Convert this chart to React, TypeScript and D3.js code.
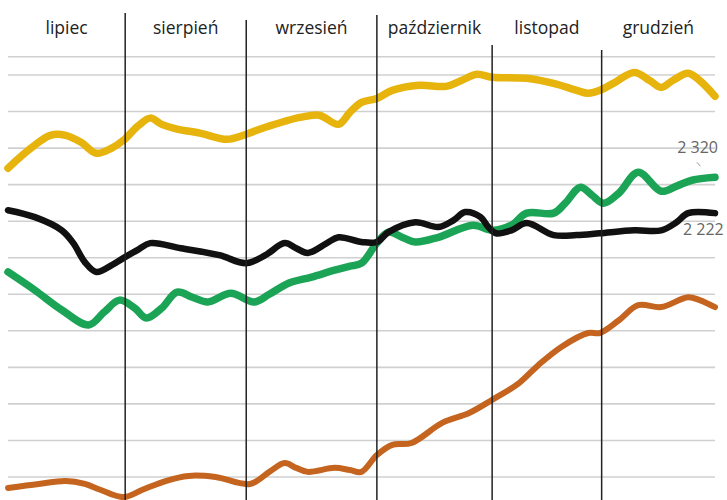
import { line, curveCatmullRom, scaleLinear } from "d3";

// months across the top
const months = ["lipiec", "sierpień", "wrzesień", "październik", "listopad", "grudzień"];
// month boundaries, in days from the start of July (as drawn)
const monthEdges = [0, 30.5, 62, 96, 126, 154.5, 184];

// gridline values
const gridValues = [1500, 1600, 1700, 1800, 1900, 2000, 2100, 2200, 2300, 2400, 2500, 2600, 2650];

const yellowDays = [0, 6, 11, 15, 19, 23, 27, 30, 34, 37, 40, 44, 50, 57, 62, 67, 76, 81, 86, 89, 92, 96, 100, 107, 114, 118, 122, 126, 135, 142, 148, 151, 154, 158, 163, 167, 170, 173, 177, 180, 184];
const yellowValues = [2345, 2400, 2435, 2435, 2416, 2386, 2400, 2421, 2462, 2482, 2465, 2452, 2441, 2424, 2438, 2457, 2484, 2490, 2465, 2498, 2525, 2536, 2558, 2572, 2569, 2585, 2602, 2594, 2591, 2577, 2558, 2550, 2558, 2580, 2607, 2585, 2566, 2585, 2605, 2585, 2542];

const blackDays = [0, 7, 14, 17, 20, 23, 27, 30, 34, 37, 45, 55, 62, 67, 72, 75, 78, 83, 86, 92, 96, 99, 106, 112, 116, 119, 123, 125, 127, 131, 135, 142, 148, 154, 163, 170, 174, 177, 184];
const blackValues = [2230, 2211, 2175, 2140, 2088, 2061, 2080, 2099, 2123, 2140, 2126, 2107, 2085, 2107, 2140, 2126, 2113, 2140, 2156, 2143, 2143, 2170, 2197, 2184, 2203, 2225, 2211, 2184, 2167, 2175, 2195, 2162, 2162, 2167, 2175, 2175, 2197, 2222, 2222];

const greenDays = [0, 7, 14, 21, 25, 29, 33, 36, 40, 44, 48, 52, 58, 64, 68, 73, 79, 85, 89, 92, 96, 99, 103, 106, 112, 121, 126, 131, 135, 142, 145, 149, 152, 155, 159, 164, 170, 174, 178, 184];
const greenValues = [2061, 2011, 1957, 1916, 1951, 1984, 1962, 1935, 1962, 2006, 1992, 1979, 2003, 1979, 2000, 2030, 2047, 2066, 2077, 2085, 2140, 2170, 2154, 2143, 2156, 2189, 2175, 2189, 2222, 2222, 2249, 2293, 2271, 2249, 2277, 2334, 2282, 2296, 2312, 2320];

const orangeDays = [0, 8, 15, 20, 24, 30, 35, 41, 47, 54, 63, 68, 72, 75, 78, 85, 89, 92, 96, 100, 105, 113, 120, 126, 133, 138, 144, 151, 154, 159, 164, 170, 177, 180, 184];
const orangeValues = [1470, 1481, 1489, 1481, 1465, 1445, 1465, 1489, 1503, 1500, 1481, 1514, 1538, 1525, 1514, 1525, 1519, 1514, 1560, 1588, 1593, 1648, 1675, 1711, 1757, 1806, 1856, 1894, 1894, 1929, 1970, 1965, 1992, 1984, 1965];

const W = 727;
const H = 500;

// top end of each divider line
const dividerTops = [13, 20, 15, 45, 50];

export default function App() {
  const x = scaleLinear().domain([0, 184]).range([8, 715]);
  const y = scaleLinear().domain([1500, 2600]).range([477, 75]);

  const path = line<[number, number]>()
    .x((d) => x(d[0]))
    .y((d) => y(d[1]))
    .curve(curveCatmullRom.alpha(0.5));

  const zip = (days: number[], vals: number[]) =>
    days.map((d, i) => [d, vals[i]] as [number, number]);

  const series = [
    { color: "#c4641f", width: 6, pts: zip(orangeDays, orangeValues) },
    { color: "#1ca456", width: 7.5, pts: zip(greenDays, greenValues) },
    { color: "#111111", width: 6.5, pts: zip(blackDays, blackValues) },
    { color: "#e6b40c", width: 7.5, pts: zip(yellowDays, yellowValues) },
  ];

  const lastGreen = greenValues[greenValues.length - 1];
  const lastBlack = blackValues[blackValues.length - 1];

  return (
    <svg
      width={W}
      height={H}
      style={{ position: "absolute", left: 0, top: 0, background: "#fff" }}
      fontFamily="'Open Sans', sans-serif"
    >
      {/* gridlines */}
      {gridValues.map((v) => (
        <line key={v} x1={x(0)} x2={x(184)} y1={y(v)} y2={y(v)} stroke="#d0d0d0" strokeWidth={1.6} />
      ))}

      {/* series */}
      {series.map((s, i) => (
        <path
          key={i}
          d={path(s.pts) ?? ""}
          fill="none"
          stroke={s.color}
          strokeWidth={s.width}
          strokeLinejoin="round"
          strokeLinecap="round"
        />
      ))}

      {/* month dividers */}
      {monthEdges.slice(1, -1).map((d, i) => (
        <line key={d} x1={x(d)} x2={x(d)} y1={dividerTops[i]} y2={H} stroke="#222" strokeWidth={1.5} />
      ))}

      {/* month labels */}
      {months.map((m, i) => (
        <text
          key={m}
          x={x((monthEdges[i] + monthEdges[i + 1]) / 2)}
          y={34}
          textAnchor="middle"
          fontSize={17.5}
          fill="#222"
        >
          {m}
        </text>
      ))}

      {/* end value labels */}
      <text x={x(184) + 3} y={y(lastGreen) - 24} textAnchor="end" fontSize={16} fill="#666">
        {"2 320"}
      </text>
      <line x1={x(179.3)} y1={y(lastGreen) - 15} x2={x(180.2)} y2={y(lastGreen) - 11} stroke="#999" strokeWidth={1} />
      <text x={x(184) - 32} y={y(lastBlack) + 22} fontSize={16} fill="#666">
        {"2 222"}
      </text>
    </svg>
  );
}
